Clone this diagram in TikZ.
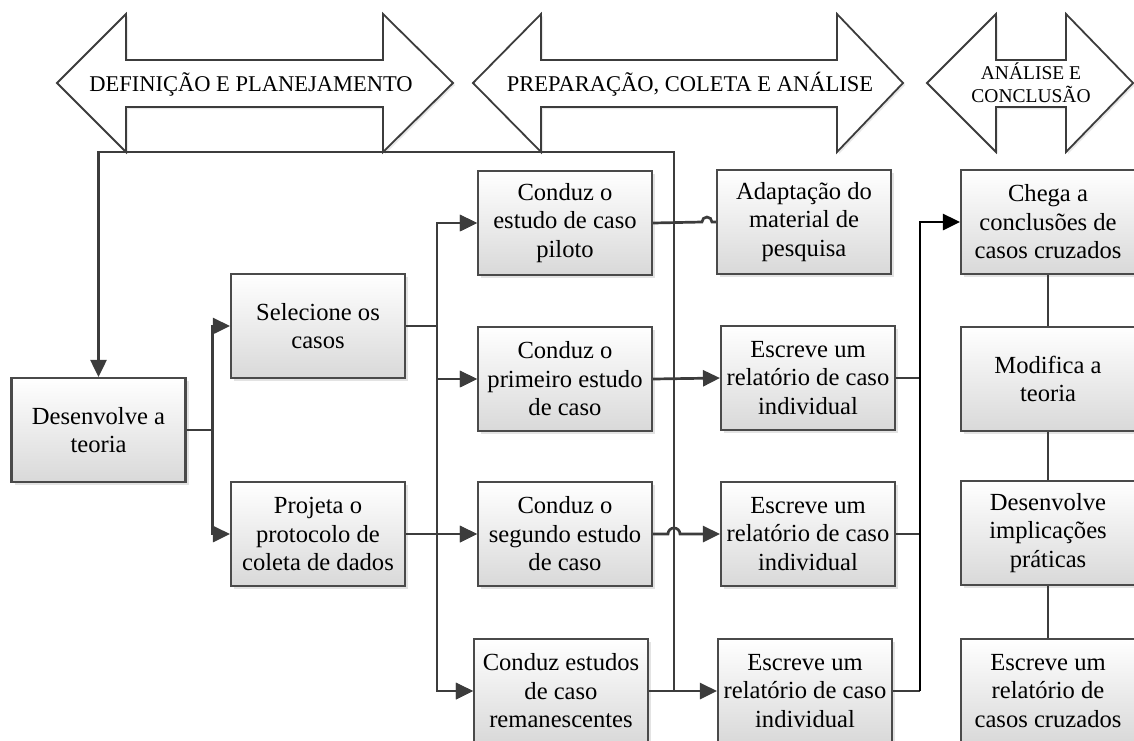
\documentclass[tikz,border=0pt]{standalone}
\usepackage{fontspec}
\setmainfont{Liberation Serif}
\usetikzlibrary{arrows.meta,shadows,calc}
\definecolor{ln}{HTML}{3c3c3c}
\definecolor{bd}{HTML}{4a4a4a}
\begin{document}
\begin{tikzpicture}[x=1pt,y=-1pt,
  box/.style={draw=bd, line width=2.1pt, top color=white, bottom color=black!15,
    minimum width=174pt, minimum height=104pt, inner sep=0pt, align=center,
    font=\fontsize{24.6}{28.5}\selectfont,
    drop shadow={shadow xshift=3pt, shadow yshift=-3pt, opacity=0.22}},
  conn/.style={draw=ln, line width=2.7pt},
  arr/.style={conn, -{Triangle[length=17pt,width=16pt]}},
  vline/.style={draw=ln, line width=2.2pt},
  bigarrow/.style={draw=ln, line width=1.8pt, fill=white,
    drop shadow={shadow xshift=2pt, shadow yshift=-2pt, opacity=0.18}},
  bigtext/.style={align=center, inner sep=0pt, font=\fontsize{22.5}{26}\selectfont},
  smalltext/.style={align=center, inner sep=0pt, font=\fontsize{19.5}{23}\selectfont}
]
\useasboundingbox (0,0) rectangle (1134,740);

% big phase arrows
\path[bigarrow] (57,83) -- (126,14) -- (126,60) -- (383,60) -- (383,14) -- (453,83)
  -- (383,152) -- (383,107) -- (126,107) -- (126,152) -- cycle;
\node[bigtext] (ph1) at (251,84) {DEFINIÇÃO E PLANEJAMENTO};
\path[bigarrow] (473,83) -- (541,14) -- (541,60) -- (837,60) -- (837,14) -- (903,83)
  -- (837,152) -- (837,107) -- (541,107) -- (541,152) -- cycle;
\node[bigtext] (ph2) at (690,84) {PREPARAÇÃO, COLETA E ANÁLISE};
\path[bigarrow] (927,83) -- (996,14) -- (996,60) -- (1066,60) -- (1066,14) -- (1133,83)
  -- (1066,152) -- (1066,107) -- (996,107) -- (996,152) -- cycle;
\node[smalltext] (ph3) at (1031,83) {ANÁLISE E\\CONCLUSÃO};

% boxes
\node[box] (des) at (98.5,430) {Desenvolve a\\teoria};
\node[box] (sel) at (318,326) {Selecione os\\casos};
\node[box] (proj) at (318,534) {Projeta o\\protocolo de\\coleta de dados};
\node[box] (c1) at (565,223) {Conduz o\\estudo de caso\\piloto};
\node[box] (c2) at (565,379) {Conduz o\\primeiro estudo\\de caso};
\node[box] (c3) at (565,534) {Conduz o\\segundo estudo\\de caso};
\node[box] (c4) at (561,691) {Conduz estudos\\de caso\\remanescentes};
\node[box] (adapt) at (804,222) {Adaptação do\\material de\\pesquisa};
\node[box] (e1) at (808,378) {Escreve um\\relatório de caso\\individual};
\node[box] (e2) at (808,534) {Escreve um\\relatório de caso\\individual};
\node[box] (e3) at (805,691) {Escreve um\\relatório de caso\\individual};
\node[box] (ch) at (1048,222) {Chega a\\conclusões de\\casos cruzados};
\node[box] (mod) at (1048,379) {Modifica a\\teoria};
\node[box] (impl) at (1048,533) {Desenvolve\\implicações\\práticas};
\node[box] (ecc) at (1048,691) {Escreve um\\relatório de\\casos cruzados};

% helper coordinates
\coordinate (busL) at (437,0);
\coordinate (fbT) at (674,152);
\coordinate (fbB) at (674,691);
\coordinate (busR) at (920,222);

% left branch
\draw[arr] (des.east) -- ++(26,0) |- (sel.west);
\draw[arr] (des.east) -- ++(26,0) |- (proj.west);

% to case studies
\foreach \s in {sel,proj}{
  \foreach \c in {c1,c2,c3,c4}{
    \draw[arr] (\s.east) -- (\s.east -| busL) |- (\c.west);
  }
}

% feedback loop
\draw[arr] (fbB) -- (fbT) -| (des.north);

% case studies to reports
\draw[conn] (c1.east) -- ($(adapt.west)+(-14,0)$) arc[start angle=180, end angle=360, radius=5] -- (adapt.west);
\draw[arr] (c2.east) -- (e1.west);
\draw[arr] (c3.east) -- ($(c3.east -| fbT)+(-6,0)$) arc[start angle=180, end angle=360, radius=6] -- (e2.west);
\draw[arr] (c4.east) -- (e3.west);

% reports to cross-case conclusions
\draw[conn] (e1.east) -- (e1.east -| busR);
\draw[conn] (e2.east) -- (e2.east -| busR);
\draw[conn] (e3.east) -- (e3.east -| busR);
\draw[arr, draw=black] (e3.east -| busR) -- (busR) -- (ch.west);

% right column
\draw[vline] (ch.south) -- (mod.north);
\draw[vline] (mod.south) -- (impl.north);
\draw[vline] (impl.south) -- (ecc.north);
\end{tikzpicture}
\end{document}
